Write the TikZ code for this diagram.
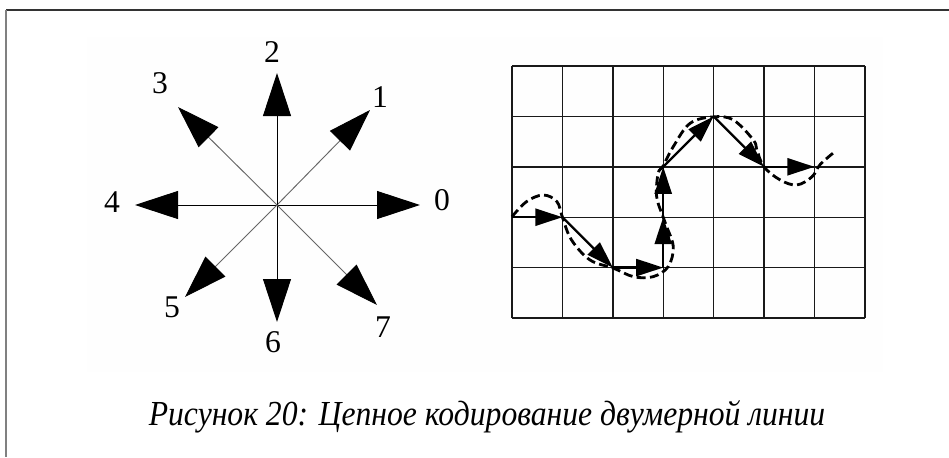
\documentclass[tikz,border=0pt]{standalone}
\usepackage{fontspec}
\setmainfont{Liberation Serif}
\usetikzlibrary{arrows.meta}
\begin{document}
\begin{tikzpicture}[x=0.3mm,y=-0.3mm,
  dirarrow/.style={-{Triangle[length=12.9mm,width=8.4mm,color=black]}},
  dirlabel/.style={font=\fontsize{27}{30}\selectfont,inner sep=0pt},
  chainarrow/.style={line width=2pt,-{Triangle[length=8.1mm,width=5.1mm]}},
  curveline/.style={line width=2.4pt,dash pattern=on 2.7mm off 1.3mm}]
\useasboundingbox (0,0) rectangle (949,457);
\fill[black!0.5] (87,37) rectangle (883,372);
\draw[line width=1.2pt,black!80] (949,10) -- (6,10);
\draw[line width=1.6pt,black!50] (6,10) -- (6,457);
\coordinate (c) at (277,205);
\foreach \k/\tx/\ty/\lx/\ly/\col in {0/420/205/442/200/black,1/370/110/380/97/black!60,
  2/277/73/272/52/black,3/178/107/160/83/black!60,4/135/205/112/202/black,
  5/185/297/172/307/black!60,6/277/322/273/342/black,7/377/305/383/327/black!60}{
  \coordinate (t\k) at (\tx,\ty);
  \node[dirlabel] (l\k) at (\lx,\ly) {\k};
  \draw[dirarrow,line width=0.8pt,draw=\col] (c) -- (t\k);
}
\begin{scope}[shift={(512,318)},x=15.12mm,y=15.12mm]
\draw[line width=1.2pt,black!90,step={(1,1)}] (0,0) grid (7,5);
\foreach \k/\gx/\gy in {0/0/2,1/1/2,2/2/1,3/3/1,4/3/2,5/3/3,6/4/4,7/5/3,8/6/3}
  \coordinate (p\k) at (\gx,\gy);
\foreach \a/\b in {0/1,1/2,2/3,3/4,4/5,5/6,6/7,7/8}
  \draw[chainarrow] (p\a) -- (p\b);
\draw[curveline] plot[smooth,tension=0.6] coordinates {(0,2.01) (0.29,2.31) (0.62,2.44)
  (0.89,2.31) (1,2) (1.18,1.55) (1.55,1.15) (2.01,0.99) (2.41,0.82) (2.8,0.82)
  (3.1,1.02) (3.2,1.41) (3.07,1.81) (3,2) (2.87,2.41) (2.9,2.87) (3,3.02) (3.2,3.4)
  (3.53,3.86) (3.99,3.99) (4.39,3.93) (4.79,3.53) (4.86,3.33) (5,3) (5.32,2.74)
  (5.65,2.64) (5.95,2.8) (6.11,3.04) (6.38,3.28)};
\end{scope}
\node[font=\fontsize{30}{33}\selectfont\itshape,inner sep=0pt,xscale=0.9] (cap) at (487,417)
  {Рисунок 20: Цепное кодирование двумерной линии};
\end{tikzpicture}
\end{document}
